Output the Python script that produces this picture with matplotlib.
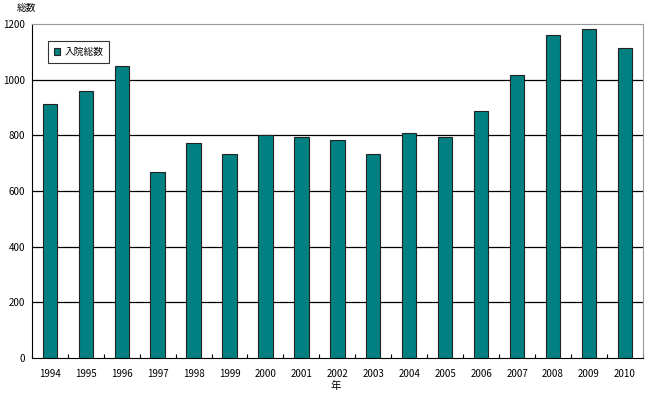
import matplotlib
matplotlib.use("Agg")
import matplotlib.pyplot as plt
import numpy as np

plt.rcParams['font.family'] = ['Noto Sans CJK JP', 'DejaVu Sans']

years = ["1994", "1995", "1996", "1997", "1998", "1999", "2000", "2001", "2002",
         "2003", "2004", "2005", "2006", "2007", "2008", "2009", "2010"]
totals = [913, 959, 1049, 668, 772, 733, 801, 794, 783, 733, 808, 794, 887, 1017, 1160, 1182, 1114]
series_name = "入院総数"
yticks = [0, 200, 400, 600, 800, 1000, 1200]

fig = plt.figure(figsize=(6.5, 3.95), dpi=100)
ax = fig.add_axes([0.049, 0.094, 0.940, 0.845])

x = np.arange(len(years))
ax.bar(x, totals, width=0.40, color='#008080', edgecolor='#222222', linewidth=0.8,
       label=series_name, zorder=3)

ax.set_xlim(-0.5, len(years) - 0.5)
ax.set_ylim(0, 1200)
ax.set_yticks(yticks)
ax.set_yticklabels([str(v) for v in yticks], fontsize=7)
ax.set_xticks(x)
ax.set_xticklabels(years, fontsize=7)
ax.tick_params(axis='x', which='major', length=0, pad=8)
ax.set_xticks(np.arange(-0.5, len(years), 1), minor=True)
ax.tick_params(axis='x', which='minor', length=3, direction='in', width=0.8)
ax.tick_params(axis='y', length=0, pad=5)

for v in yticks[1:-1]:
    ax.axhline(v, color='black', linewidth=0.9, zorder=1)

ax.spines['left'].set_color('black')
ax.spines['bottom'].set_color('black')
ax.spines['top'].set_color('#999999')
ax.spines['right'].set_color('#999999')

leg = ax.legend(loc='upper left', bbox_to_anchor=(0.026, 0.949), borderaxespad=0,
                fontsize=7, frameon=True, fancybox=False, edgecolor='black',
                handlelength=0.7, handleheight=0.7, handletextpad=0.4, borderpad=0.6)
leg.get_frame().set_linewidth(0.8)

fig.text(26/650, 1 - 8/395, "総数", fontsize=7, ha='center', va='center')
fig.text(336/650, 1 - 386/395, "年", fontsize=7.5, ha='center', va='center')

fig.savefig("out.png", dpi=100)
